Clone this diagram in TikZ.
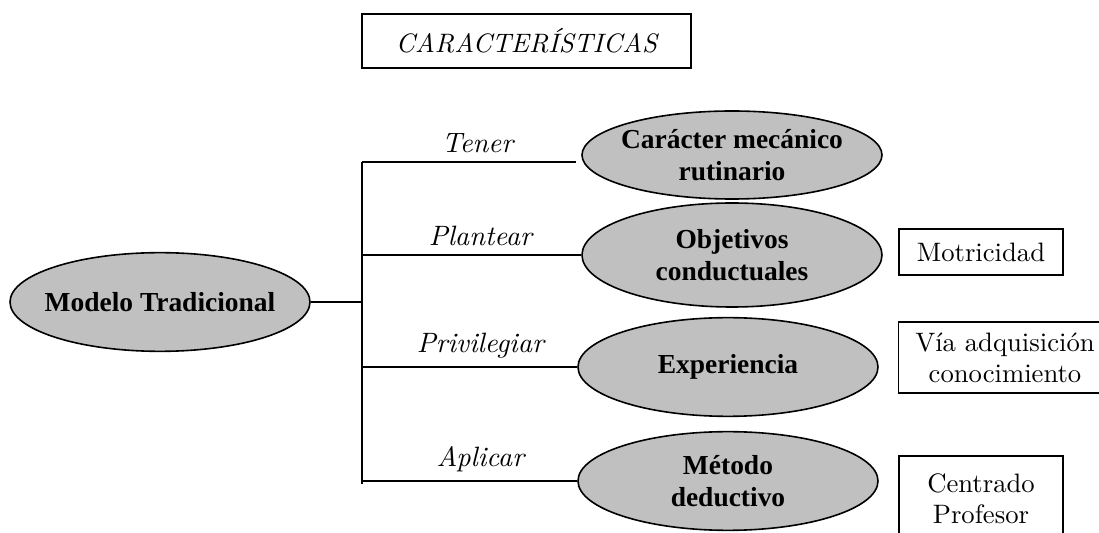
\documentclass[tikz,border=0pt]{standalone}
\usepackage{fontspec}
\newfontfamily\negrita{Liberation Serif}
\usetikzlibrary{shapes.geometric}
\definecolor{gris}{RGB}{192,192,192}

\begin{document}
\begin{tikzpicture}[x=0.375pt,y=0.375pt,
  elipse/.style={draw, ellipse, fill=gris, line width=0.6pt, inner xsep=-12pt, inner ysep=0pt,
    minimum width=112.5pt, minimum height=37pt, align=center,
    font=\negrita\bfseries\fontsize{10.3}{12}\selectfont},
  caja/.style={draw, rectangle, line width=0.45pt, align=center,
    font=\fontsize{10}{11.6}\selectfont},
  rama/.style={line width=0.7pt},
  verbo/.style={font=\itshape\fontsize{10.5}{12}\selectfont, inner sep=3pt}]
\useasboundingbox (0,0) rectangle (1099,533);
\clip (0,0) rectangle (1099,533);

\node[caja, minimum width=123.4pt, minimum height=20.25pt,
  font=\itshape\fontsize{10}{11}\selectfont] (titulo) at (526.5,492) {CARACTERÍSTICAS};

\node[elipse] (modelo) at (160,231) {Modelo Tradicional};

\node[elipse, minimum height=33pt] (car) at (732,378) {Carácter mecánico\\rutinario};
\node[elipse, minimum height=39pt] (obj) at (732,278) {Objetivos\\conductuales};
\node[elipse] (exp) at (728,166) {Experiencia};
\node[elipse] (met) at (728,52) {Método\\deductivo};

\coordinate (tronco) at (362,231);
\coordinate (t1) at (362,371);
\coordinate (fin) at (362,49);

\draw[rama] (modelo) -- (tronco);
\draw[rama] (t1) -- (fin);
\draw[rama] (t1) -- ([xshift=-2]t1 -| car.west) node[verbo, above, pos=0.54] (vtener) {Tener};
\draw[rama] (tronco |- obj) -- (obj) node[verbo, above, pos=0.54] (vplantear) {Plantear};
\draw[rama] (tronco |- exp) -- (exp) node[verbo, above, pos=0.55] (vprivilegiar) {Privilegiar};
\draw[rama] (tronco |- met) -- (met) node[verbo, above, pos=0.55] (vaplicar) {Aplicar};

\node[caja, minimum width=61.5pt, minimum height=17.25pt] (motri) at (981,281) {Motricidad};
\node[caja, minimum width=80pt, minimum height=26.6pt] (via) at (1005,175.5) {Vía adquisición\\conocimiento};
\node[caja, minimum width=61.5pt, minimum height=31.9pt] (centrado) at (981,34.5) {Centrado\\Profesor};
\end{tikzpicture}
\end{document}
